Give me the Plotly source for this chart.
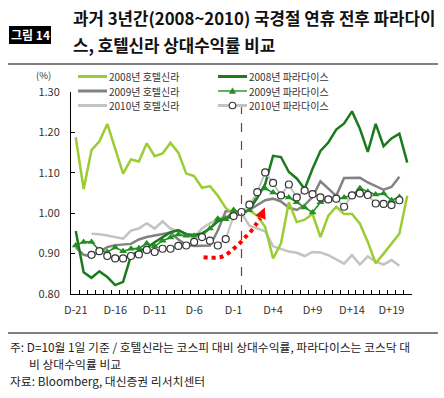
import plotly.graph_objects as go

# ---------------- data ----------------
days = ["D-21", "D-20", "D-19", "D-18", "D-17", "D-16", "D-15", "D-14", "D-13", "D-12",
        "D-11", "D-10", "D-9", "D-8", "D-7", "D-6", "D-5", "D-4", "D-3", "D-2", "D-1",
        "D", "D+1", "D+2", "D+3", "D+4", "D+5", "D+6", "D+7", "D+8", "D+9", "D+10",
        "D+11", "D+12", "D+13", "D+14", "D+15", "D+16", "D+17", "D+18", "D+19", "D+20", "D+21"]
tick_labels = ["D-21", "D-16", "D-11", "D-6", "D-1", "D+4", "D+9", "D+14", "D+19"]
y_ticks = [0.80, 0.90, 1.00, 1.10, 1.20, 1.30]

hotel_2008 = [1.188, 1.060, 1.156, 1.178, 1.221, 1.162, 1.098, 1.133, 1.128, 1.173, 1.141,
              1.148, 1.174, 1.150, 1.098, 1.092, 1.063, 1.067, 1.043, 1.013, 0.998, 1.000,
              1.007, 0.994, 0.966, 0.888, 0.925, 1.027, 0.978, 0.984, 0.998, 0.941, 0.994,
              1.016, 0.998, 0.998, 0.974, 0.929, 0.876, 0.900, 0.925, 0.949, 1.043]
paradise_2008 = [0.956, 0.854, 0.840, 0.856, 0.842, 0.822, 0.830, 0.895, 0.906, 0.914, 0.928,
                 0.940, 0.953, 0.958, 0.948, 0.946, 0.950, 0.962, 0.980, 0.988, 0.992, 1.000,
                 1.008, 1.038, 1.072, 1.142, 1.139, 1.102, 1.086, 1.060, 1.110, 1.154, 1.175,
                 1.207, 1.222, 1.252, 1.209, 1.152, 1.221, 1.166, 1.185, 1.197, 1.125]
hotel_2009 = [0.916, 0.897, 0.893, 0.904, 0.916, 0.921, 0.922, 0.924, 0.935, 0.941, 0.945,
              0.949, 0.952, 0.935, 0.922, 0.919, 0.919, 0.920, 0.957, 1.005, 1.005, 1.000,
              1.008, 1.019, 1.032, 1.036, 1.029, 1.014, 1.008, 1.020, 1.040, 1.079, 1.060,
              1.043, 1.087, 1.088, 1.088, 1.076, 1.066, 1.058, 1.065, 1.090]
paradise_2009 = [0.920, 0.929, 0.929, 0.908, 0.904, 0.915, 0.906, 0.912, 0.913, 0.925, 0.918,
                 0.932, 0.940, 0.947, 0.944, 0.944, 0.945, 0.962, 0.986, 0.985, 1.008, 1.000,
                 1.007, 1.052, 1.061, 1.051, 1.043, 1.039, 1.027, 1.014, 1.002, 1.027, 1.032,
                 1.035, 1.039, 1.045, 1.062, 1.053, 1.046, 1.049, 1.032, 1.040]
hotel_2010 = [0.949, 0.948, 0.945, 0.941, 0.937, 0.957, 0.962, 0.975, 0.962, 0.980, 0.962,
              0.955, 0.948, 0.941, 0.962, 0.975, 0.985, 0.992, 0.997, 1.000, 0.969, 0.962,
              0.955, 0.918, 0.911, 0.905, 0.902, 0.894, 0.904, 0.903, 0.896, 0.885, 0.875,
              0.896, 0.873, 0.893, 0.880, 0.873, 0.884, 0.870]
paradise_2010 = [0.897, 0.906, 0.894, 0.888, 0.888, 0.894, 0.898, 0.909, 0.904, 0.912, 0.912,
                 0.919, 0.920, 0.929, 0.941, 0.932, 0.920, 0.936, 0.993, 1.003, 1.021, 1.052,
                 1.101, 1.075, 1.044, 1.071, 1.039, 1.056, 1.047, 1.039, 1.034, 1.036, 1.016,
                 1.044, 1.049, 1.045, 1.024, 1.023, 1.020, 1.032]

# red dotted arrow path (day index, value)
arrow_x = [16.2, 17.2, 18.3, 19.1, 20.0, 20.7, 21.4, 22.1, 22.9, 23.4]
arrow_y = [0.891, 0.890, 0.891, 0.898, 0.912, 0.924, 0.939, 0.953, 0.974, 0.988]
arrow_tip = (23.95, 1.014)

series_names = ["2008년 호텔신라", "2008년 파라다이스", "2009년 호텔신라",
                "2009년 파라다이스", "2010년 호텔신라", "2010년 파라다이스"]

# ---------------- layout geometry ----------------
W, H = 444, 398
ML, MR, MT, MB = 71, 32, 92, 104
PW, PH = W - ML - MR, H - MT - MB
FONT = "Noto Sans CJK KR"


def px(x):
    return (x - ML) / PW


def py(y):
    return (H - MB - y) / PH


C_H08 = "#9ACD32"
C_P08 = "#1B7A1B"
C_H09 = "#828282"
C_P09 = "#238E23"
C_H10 = "#C3C3C3"
C_P10 = "#C3C3C3"

fig = go.Figure()

fig.add_trace(go.Scatter(x=days[2:2 + len(hotel_2010)], y=hotel_2010, mode="lines",
                         name=series_names[4], line=dict(color=C_H10, width=2.5)))
fig.add_trace(go.Scatter(x=days[:len(hotel_2009)], y=hotel_2009, mode="lines",
                         name=series_names[2], line=dict(color=C_H09, width=2.5)))
fig.add_trace(go.Scatter(x=days[:len(hotel_2008)], y=hotel_2008, mode="lines",
                         name=series_names[0], line=dict(color=C_H08, width=2.5)))
fig.add_trace(go.Scatter(x=days[:len(paradise_2008)], y=paradise_2008, mode="lines",
                         name=series_names[1], line=dict(color=C_P08, width=2.5)))
fig.add_trace(go.Scatter(x=days[:len(paradise_2009)], y=paradise_2009, mode="lines+markers",
                         name=series_names[3], line=dict(color=C_P09, width=1.6),
                         marker=dict(symbol="triangle-up", size=7, color=C_P09)))
fig.add_trace(go.Scatter(x=days[2:2 + len(paradise_2010)], y=paradise_2010, mode="lines+markers",
                         name=series_names[5], line=dict(color=C_P10, width=2),
                         marker=dict(symbol="circle", size=7, color="white",
                                     line=dict(color="#333333", width=1.2))))
# red dotted curve on an overlaid numeric axis
fig.add_trace(go.Scatter(x=arrow_x, y=arrow_y, mode="lines", xaxis="x2", yaxis="y",
                         line=dict(color="#FF0000", width=4, dash="dot", shape="spline"),
                         showlegend=False, hoverinfo="skip"))

shapes = []
annotations = []

# D day dashed line
shapes.append(dict(type="line", xref="x", yref="y", x0="D", x1="D", y0=0.8, y1=1.262,
                   line=dict(color="#A52A2A", width=1.2, dash="dash"), layer="above"))

# arrow head
annotations.append(dict(xref="x2", yref="y", axref="x2", ayref="y",
                        x=arrow_tip[0], y=arrow_tip[1], ax=arrow_x[-1], ay=arrow_y[-1],
                        text="", showarrow=True, arrowhead=2, arrowsize=1.0,
                        arrowwidth=2.2, arrowcolor="#FF0000", standoff=0, startstandoff=0))

# ---- manual legend ----
leg_rows = [76.5, 91, 105.5]
leg_cols = [(78, 107), (218, 247)]
leg_styles = [
    (series_names[0], C_H08, 3, None),
    (series_names[1], C_P08, 3, None),
    (series_names[2], C_H09, 3, None),
    (series_names[3], C_P09, 1.4, "tri"),
    (series_names[4], C_H10, 3, None),
    (series_names[5], C_P10, 3, "circ"),
]
for k, (label, color, lw, mk) in enumerate(leg_styles):
    r, c = divmod(k, 2)
    yv = leg_rows[r]
    x0, x1 = leg_cols[c]
    shapes.append(dict(type="line", xref="paper", yref="paper", x0=px(x0), x1=px(x1),
                       y0=py(yv), y1=py(yv), line=dict(color=color, width=lw)))
    xm = (x0 + x1) / 2
    if mk == "tri":
        shapes.append(dict(type="path", xref="paper", yref="paper", xsizemode="pixel",
                           ysizemode="pixel", xanchor=px(xm), yanchor=py(yv),
                           path="M -3.2 -2.4 L 3.2 -2.4 L 0 3.2 Z",
                           fillcolor=C_P09, line=dict(color=C_P09, width=0.5)))
    elif mk == "circ":
        shapes.append(dict(type="circle", xref="paper", yref="paper", xsizemode="pixel",
                           ysizemode="pixel", xanchor=px(xm), yanchor=py(yv),
                           x0=-3.3, x1=3.3, y0=-3.3, y1=3.3,
                           fillcolor="white", line=dict(color="#333333", width=1.1)))
    annotations.append(dict(xref="paper", yref="paper", x=px(x1 + 1), y=py(yv),
                            xanchor="left", yanchor="middle", showarrow=False, text=label,
                            borderpad=0,
                            font=dict(family=FONT, size=10, color="#333333")))

# (%) unit
annotations.append(dict(xref="paper", yref="paper", x=px(43), y=py(75), xanchor="center",
                        yanchor="middle", showarrow=False, text="(%)", borderpad=0,
                        font=dict(family=FONT, size=9.5, color="#333333")))

# title block
shapes.append(dict(type="rect", xref="paper", yref="paper", x0=px(9), x1=px(51),
                   y0=py(44), y1=py(26), fillcolor="black", line=dict(width=0)))
annotations.append(dict(xref="paper", yref="paper", x=px(30), y=py(35), xanchor="center",
                        yanchor="middle", showarrow=False, text="<b>그림 14</b>",
                        font=dict(family=FONT, size=12, color="white")))
annotations.append(dict(xref="paper", yref="paper", x=px(71), y=py(18), xanchor="left",
                        yanchor="middle", showarrow=False,
                        text="<b>과거 3년간(2008~2010) 국경절 연휴 전후 파라다이</b>",
                        font=dict(family=FONT, size=16.8, color="#111111")))
annotations.append(dict(xref="paper", yref="paper", x=px(71), y=py(45), xanchor="left",
                        yanchor="middle", showarrow=False,
                        text="<b>스, 호텔신라 상대수익률 비교</b>",
                        font=dict(family=FONT, size=16.8, color="#111111")))
shapes.append(dict(type="line", xref="paper", yref="paper", x0=px(8), x1=px(438),
                   y0=py(64), y1=py(64), line=dict(color="black", width=1)))

# footnotes
shapes.append(dict(type="line", xref="paper", yref="paper", x0=px(8), x1=px(438),
                   y0=py(333), y1=py(333), line=dict(color="black", width=1)))
notes = [
    (8, 346, "주: D=10월 1일 기준 / 호텔신라는 코스피 대비 상대수익률, 파라다이스는 코스닥 대"),
    (27, 363, "비 상대수익률 비교"),
    (8, 380, "자료: Bloomberg, 대신증권 리서치센터"),
]
for xn, yn, t in notes:
    annotations.append(dict(xref="paper", yref="paper", x=px(xn), y=py(yn), xanchor="left",
                            yanchor="middle", showarrow=False, text=t,
                            font=dict(family=FONT, size=11.8, color="#222222")))

fig.update_layout(
    width=W, height=H,
    margin=dict(l=ML, r=MR, t=MT, b=MB, pad=0, autoexpand=False),
    paper_bgcolor="white", plot_bgcolor="white",
    showlegend=False,
    font=dict(family=FONT, size=11, color="#333333"),
    xaxis=dict(type="category", categoryorder="array", categoryarray=days,
               range=[-0.6, 42.6], tickmode="array", tickvals=days,
               ticktext=[d if d in tick_labels else "" for d in days],
               tickson="boundaries", ticks="inside", ticklen=4, tickcolor="black",
               showline=True, linecolor="black", linewidth=1, mirror=False,
               showgrid=False, zeroline=False, ticklabelstandoff=6, tickangle=0,
               automargin=False,
               tickfont=dict(family=FONT, size=11, color="#333333")),
    xaxis2=dict(overlaying="x", range=[-0.6, 42.6], visible=False, type="linear"),
    yaxis=dict(range=[0.8, 1.3], tickmode="array", tickvals=y_ticks,
               ticktext=[f"{v:.2f}" for v in y_ticks], ticks="inside", ticklen=4,
               tickcolor="black", showline=True, linecolor="black", linewidth=1,
               showgrid=False, zeroline=False, ticklabelstandoff=8, automargin=False,
               tickfont=dict(family=FONT, size=11, color="#333333")),
    shapes=shapes,
    annotations=annotations,
)

fig.write_html("out.html", config={"displayModeBar": False},
               post_script="document.body.style.margin='0';document.body.style.overflow='hidden';")
